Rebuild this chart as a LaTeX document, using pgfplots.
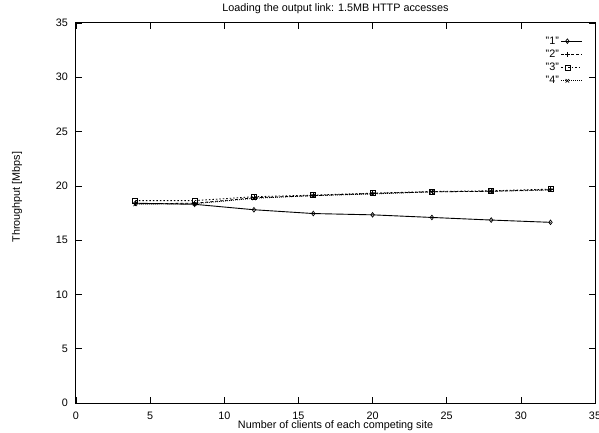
\documentclass[border=0pt]{standalone}
\usepackage{fontspec}
\setmainfont{Liberation Sans}
\usepackage{pgfplots}
\pgfplotsset{compat=1.18}
\newcommand{\gfont}{\fontsize{10.8}{12.5}\selectfont}
\begin{document}
\begin{tikzpicture}
\useasboundingbox (-76pt,-30pt) rectangle (523pt,403pt);
\begin{axis}[
  scale only axis,
  width=519pt, height=380pt,
  xmin=0, xmax=35, ymin=0, ymax=35,
  xtick={0,5,...,35}, ytick={0,5,...,35},
  tick pos=both, tick align=inside,
  major tick length=6pt,
  axis line style={line width=1pt},
  every tick/.style={black, line width=0.7pt},
  /pgf/number format/assume math mode=true,
  tick label style={font=\gfont},
  xticklabel style={yshift=-5.5pt},
  yticklabel style={xshift=-4.5pt},
  title={Loading the output link: 1.5MB HTTP accesses},
  every axis title/.style={font=\gfont, at={(axis description cs:0.5,1.0363)}, anchor=center},
  xlabel={Number of clients of each competing site},
  xlabel style={font=\gfont, at={(axis description cs:0.5,-0.061)}, anchor=center},
  ylabel={Throughput [Mbps]},
  ylabel style={font=\gfont, at={(axis description cs:-0.1137,0.542)}, anchor=center},
  legend plot pos=right,
  legend cell align=right,
  legend style={draw=none, fill=none, font=\gfont, at={(axis description cs:0.9769,0.9697)}, anchor=north east,
    inner sep=0pt, row sep=0.2pt, /tikz/every even column/.append style={column sep=3pt}},
  legend image code/.code={\draw[#1, mark repeat=2, mark phase=2] plot coordinates {(0pt,0pt) (6pt,0pt) (21pt,0pt)};},
]
\addplot[black, line width=0.9pt, mark=diamond, mark size=2.3pt, mark options={solid, fill=white, line width=0.7pt}]
  coordinates {(4,18.4) (8,18.3) (12,17.8) (16,17.45) (20,17.33) (24,17.09) (28,16.85) (32,16.64)};
\addlegendentry{"1"}
\addplot[black, line width=0.8pt, dash pattern=on 3pt off 2pt, mark=+, mark size=2.5pt, mark options={solid, line width=0.7pt}]
  coordinates {(4,18.35) (8,18.4) (12,18.9) (16,19.1) (20,19.3) (24,19.45) (28,19.5) (32,19.65)};
\addlegendentry{"2"}
\addplot[black, line width=0.8pt, dash pattern=on 1.5pt off 2pt, mark=square, mark size=2.5pt, mark options={solid, line width=0.7pt}]
  coordinates {(4,18.64) (8,18.64) (12,19.0) (16,19.15) (20,19.33) (24,19.48) (28,19.55) (32,19.7)};
\addlegendentry{"3"}
\addplot[black, line width=0.8pt, dash pattern=on 0.8pt off 1.2pt, mark=x, mark size=2.5pt, mark options={solid, line width=0.7pt}]
  coordinates {(4,18.3) (8,18.35) (12,18.85) (16,19.1) (20,19.25) (24,19.45) (28,19.5) (32,19.6)};
\addlegendentry{"4"}
\end{axis}
\end{tikzpicture}
\end{document}
